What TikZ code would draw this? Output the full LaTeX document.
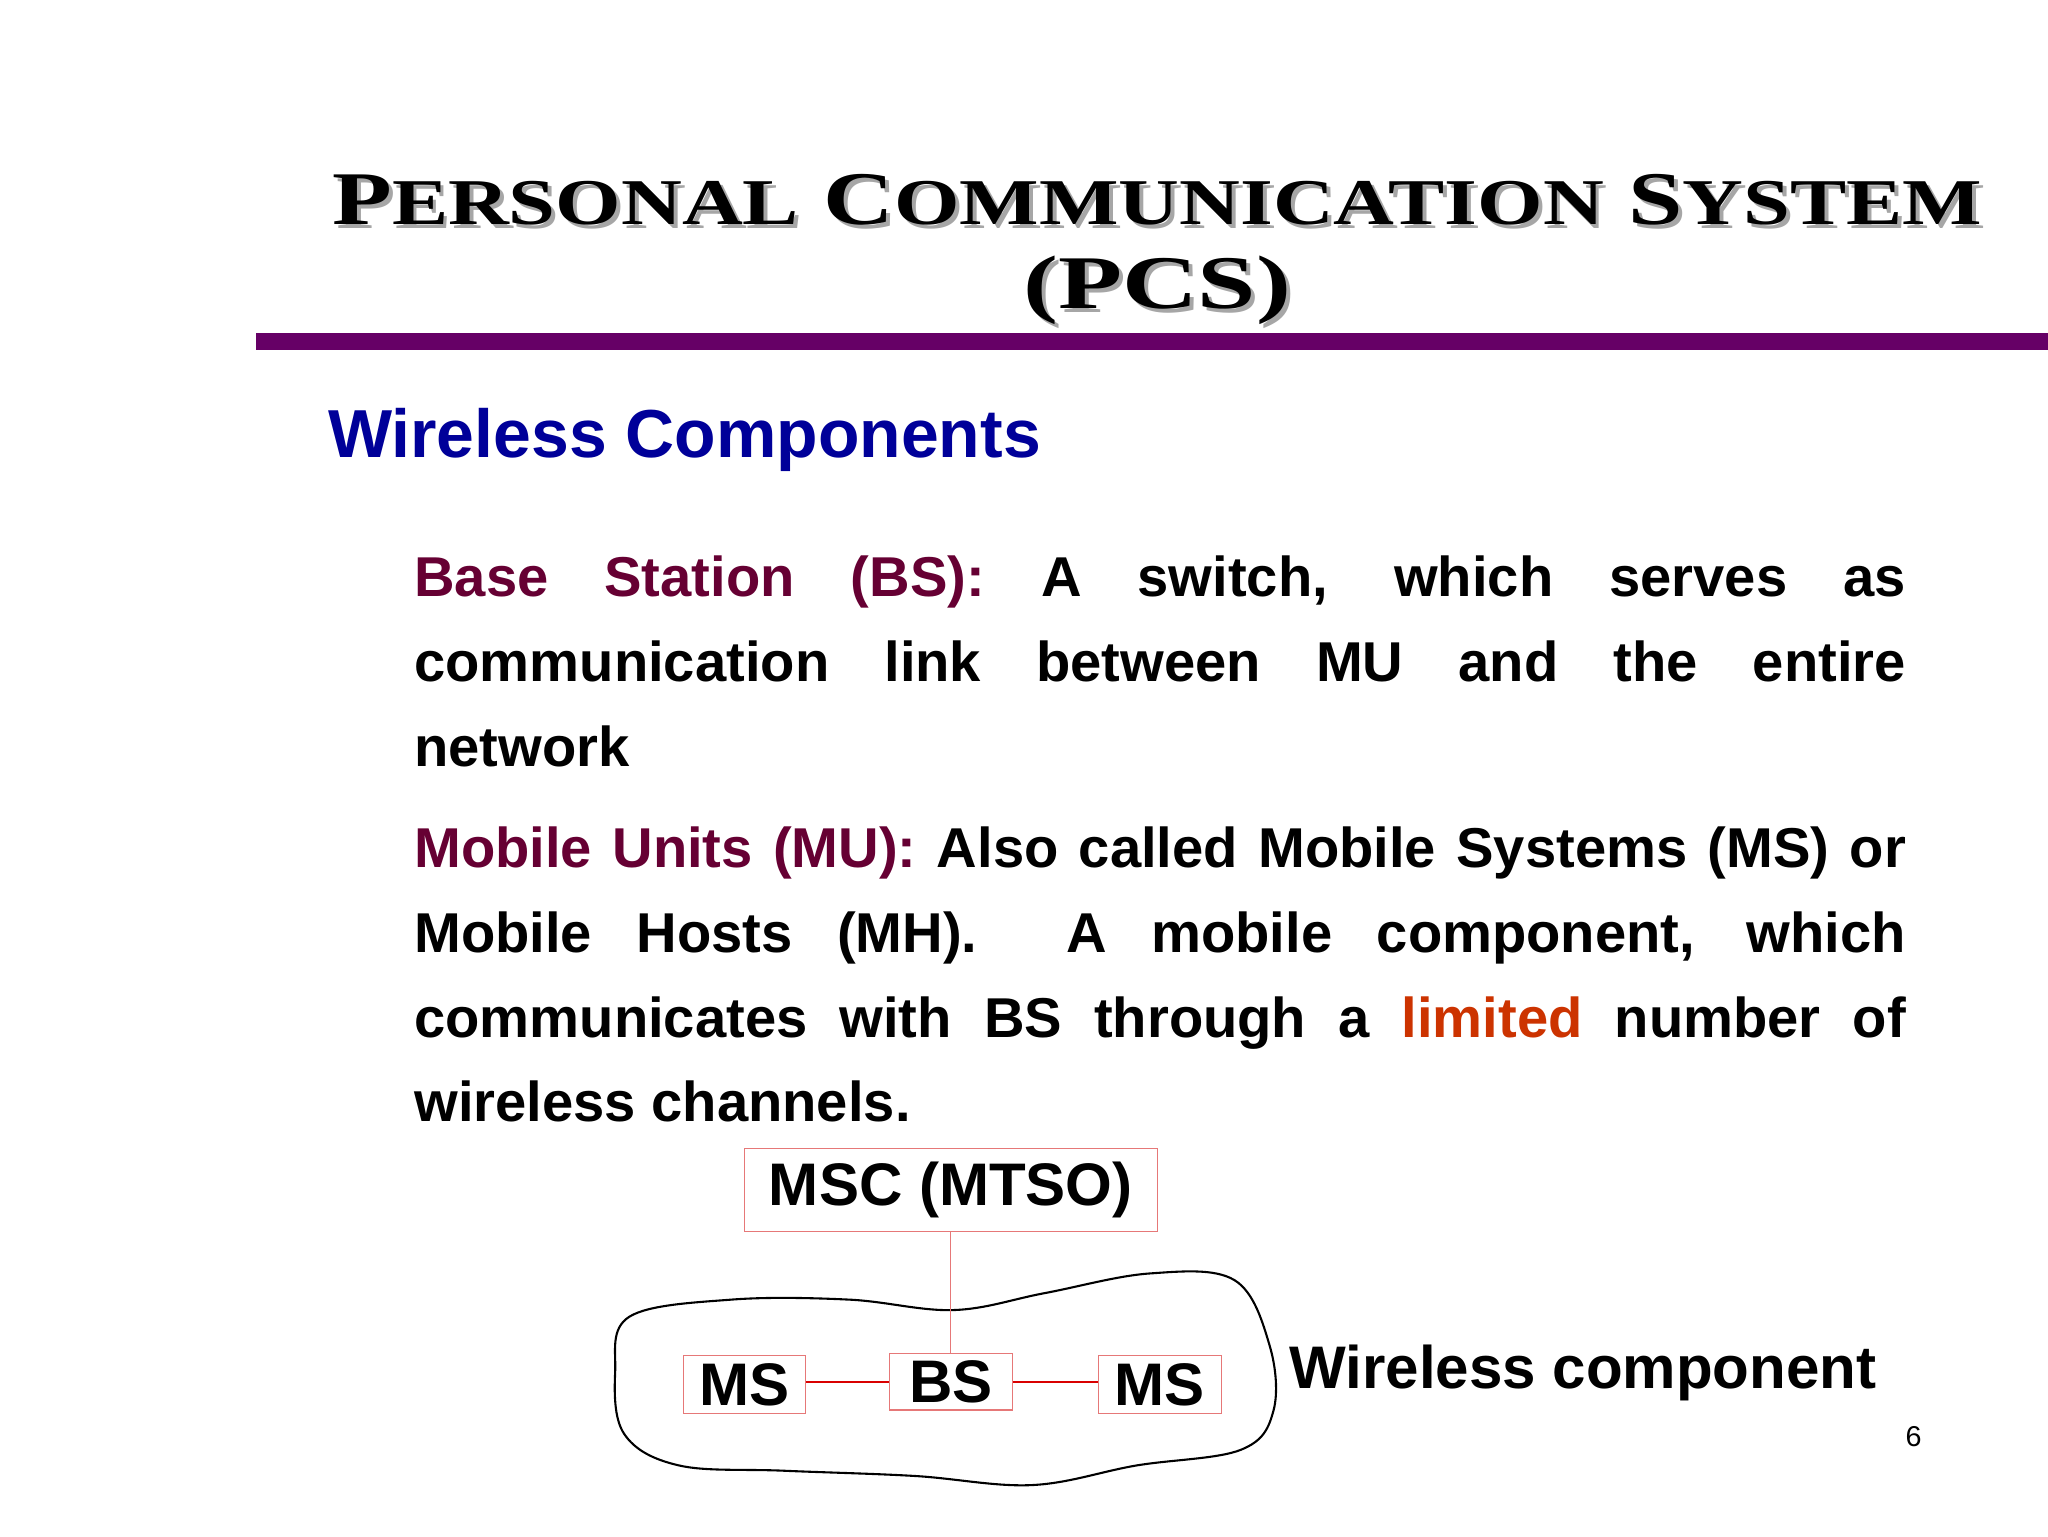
\documentclass[tikz,border=0pt]{standalone}
\usepackage{fontspec}
\usepackage{graphicx}
\setmainfont{Liberation Sans}
\newfontfamily\titlefont{Liberation Serif}
\definecolor{barpurple}{RGB}{102,0,102}
\definecolor{lbl}{RGB}{102,0,51}
\definecolor{hl}{RGB}{204,51,0}
\definecolor{headblue}{RGB}{0,0,153}
\definecolor{boxred}{RGB}{230,120,120}
\newcommand{\BIG}[1]{{\fontsize{58}{58}\selectfont #1}}
\newcommand{\SMALLC}[1]{{\fontsize{50}{50}\selectfont #1}}
\newcommand{\Ttl}{\resizebox{1263pt}{\height}{\titlefont\bfseries \BIG{P}\SMALLC{ERSONAL}\BIG{\ C}\SMALLC{OMMUNICATION}\BIG{\ S}\SMALLC{YSTEM}}}
\newcommand{\Tt}{\resizebox{205pt}{\height}{\titlefont\bfseries \BIG{(PCS)}}}
\newcommand{\LN}[1]{\makebox[1142pt][s]{#1}}
\begin{document}
\begin{tikzpicture}[x=1pt,y=-1pt,
  body/.style={anchor=base west,inner sep=0,font=\fontsize{43}{43}\selectfont\bfseries},
  box/.style={draw=boxred,line width=0.8pt,inner sep=0,font=\fontsize{46}{46}\selectfont\bfseries},
  link/.style={red!85!black,line width=1.2pt}]
\useasboundingbox (0,0) rectangle (1568,1176);
\fill[white] (0,0) rectangle (1568,1176);
% title
\node[gray!70,inner sep=0] at (889,156) {\Ttl};
\node[inner sep=0] (t1) at (886,153) {\Ttl};
\node[gray!70,inner sep=0] at (889,225) {\Tt};
\node[inner sep=0] (t2) at (886,222) {\Tt};
\fill[barpurple] (196,255) rectangle (1568,268);
\node[anchor=base west,inner sep=0,text=headblue,font=\fontsize{52}{52}\selectfont\bfseries] (wc) at (251,350) {Wireless Components};
% body
\node[body] (l1) at (317,457) {\LN{\textcolor{lbl}{Base Station (BS):} A switch, which serves as}};
\node[body] (l2) at (317,522) {\LN{communication link between MU and the entire}};
\node[body] (l3) at (317,587) {network};
\node[body] (l4) at (317,664) {\LN{\textcolor{lbl}{Mobile Units (MU):} Also called Mobile Systems (MS) or}};
\node[body] (l5) at (317,729) {\LN{Mobile Hosts (MH).\ \ A mobile component, which}};
\node[body] (l6) at (317,794) {\LN{communicates with BS through a \textcolor{hl}{limited} number of}};
\node[body] (l7) at (317,859) {wireless channels.};
% diagram
\draw[line width=1.6pt] plot[smooth cycle,tension=0.6] coordinates{(482,1008) (560,995) (650,995) (730,1003) (800,990) (880,975) (945,980) (972,1030) (975,1080) (950,1110) (870,1122) (790,1137) (700,1130) (600,1126) (520,1122) (478,1098) (471,1050)};
\node[box,minimum width=316pt,minimum height=63pt] (msc) at (728,911) {MSC (MTSO)};
\node[box,minimum width=94pt,minimum height=43pt] (bs) at (728,1058) {BS};
\node[box,minimum width=94pt,minimum height=44pt] (ms1) at (570,1060) {MS};
\node[box,minimum width=94pt,minimum height=44pt] (ms2) at (888,1060) {MS};
\draw[boxred,line width=0.8pt] (msc.south) -- (bs.north);
\draw[link] (ms1.east|-bs.east) -- (bs.east-|bs.west);
\draw[link] (bs.east) -- (ms2.west|-bs.east);
\node[anchor=west,inner sep=0,font=\fontsize{46}{46}\selectfont\bfseries] (wl) at (987,1051) {Wireless component};
\node[inner sep=0,font=\fontsize{22}{22}\selectfont] (pg) at (1465,1100) {6};
\end{tikzpicture}
\end{document}
